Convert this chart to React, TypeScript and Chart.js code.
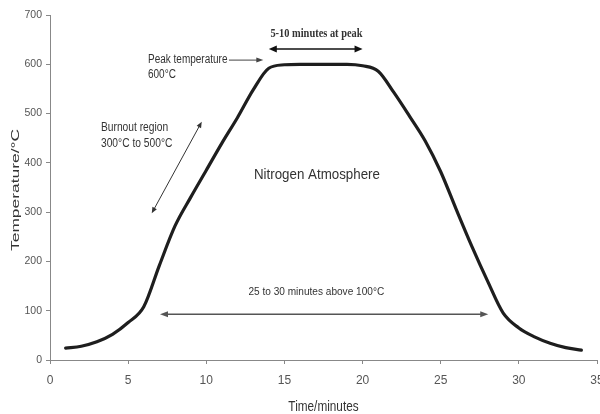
import React, { useEffect, useRef } from "react";
import { Chart, registerables } from "chart.js";

Chart.register(...registerables);

// ---- data ----
const timeMinutes = [1, 2, 3, 4, 5, 6, 7, 8, 9, 10, 11, 12, 13, 14, 15, 16, 17, 18, 19, 20, 21, 22, 23, 24, 25, 26, 27, 28, 29, 30, 31, 32, 33, 34];
const temperatureC = [24, 28, 37, 52, 76, 108, 192, 272, 330, 385, 440, 492, 548, 592, 599, 600, 600, 600, 600, 597, 586, 543, 495, 445, 382, 305, 230, 160, 95, 65, 47, 34, 25, 20];

const xTicks = [0, 5, 10, 15, 20, 25, 30, 35];
const yTicks = [0, 100, 200, 300, 400, 500, 600, 700];

const xTitle = "Time/minutes";
const yTitle = "Temperature/°C";

// annotation texts (anchored in data units: minutes, °C)
const annoTexts = [
  { text: "5-10 minutes at peak", x: 17.05, y: 656, size: 13, sx: 0.8, family: '"Liberation Serif", "Times New Roman", serif', weight: "bold", align: "center", color: "#333" },
  { text: "Peak temperature", x: 6.27, y: 603, size: 12.5, sx: 0.8, family: '"Liberation Sans", Arial, sans-serif', weight: "normal", align: "left", color: "#333" },
  { text: "600°C", x: 6.27, y: 573, size: 12.5, sx: 0.8, family: '"Liberation Sans", Arial, sans-serif', weight: "normal", align: "left", color: "#333" },
  { text: "Burnout region", x: 3.26, y: 465, size: 12.5, sx: 0.82, family: '"Liberation Sans", Arial, sans-serif', weight: "normal", align: "left", color: "#333" },
  { text: "300°C to 500°C", x: 3.26, y: 433, size: 12.5, sx: 0.82, family: '"Liberation Sans", Arial, sans-serif', weight: "normal", align: "left", color: "#333" },
  { text: "Nitrogen Atmosphere", x: 17.08, y: 366.5, size: 15.4, sx: 0.866, family: '"Liberation Sans", Arial, sans-serif', weight: "normal", align: "center", color: "#333" },
  { text: "25 to 30 minutes above 100°C", x: 17.04, y: 132, size: 11.6, sx: 0.87, family: '"Liberation Sans", Arial, sans-serif', weight: "normal", align: "center", color: "#333" },
];

// annotation arrows (data units)
const annoArrows = [
  { x1: 14, y1: 631, x2: 20, y2: 631, start: true, end: true, color: "#111", width: 1.5, hl: 8, hw: 7 },
  { x1: 11.45, y1: 608.5, x2: 13.65, y2: 608.5, start: false, end: true, color: "#444", width: 1, hl: 7, hw: 5 },
  { x1: 6.51, y1: 297.6, x2: 9.71, y2: 483.5, start: true, end: true, color: "#333", width: 1, hl: 6, hw: 5 },
  { x1: 7.04, y1: 92.7, x2: 28.04, y2: 92.7, start: true, end: true, color: "#555", width: 1.5, hl: 8, hw: 6 },
];

function drawHead(ctx: CanvasRenderingContext2D, tx: number, ty: number, fx: number, fy: number, hl: number, hw: number) {
  const ang = Math.atan2(ty - fy, tx - fx);
  ctx.save();
  ctx.translate(tx, ty);
  ctx.rotate(ang);
  ctx.beginPath();
  ctx.moveTo(0, 0);
  ctx.lineTo(-hl, hw / 2);
  ctx.lineTo(-hl, -hw / 2);
  ctx.closePath();
  ctx.fill();
  ctx.restore();
}

const annotationPlugin = {
  id: "annotationsAndTitles",
  afterDraw(chart: any) {
    const ctx: CanvasRenderingContext2D = chart.ctx;
    const xs = chart.scales.x;
    const ys = chart.scales.y;
    const area = chart.chartArea;

    // arrows
    annoArrows.forEach((a) => {
      const x1 = xs.getPixelForValue(a.x1);
      const y1 = ys.getPixelForValue(a.y1);
      const x2 = xs.getPixelForValue(a.x2);
      const y2 = ys.getPixelForValue(a.y2);
      ctx.save();
      ctx.strokeStyle = a.color;
      ctx.fillStyle = a.color;
      ctx.lineWidth = a.width;
      const ang = Math.atan2(y2 - y1, x2 - x1);
      const sx1 = a.start ? x1 + Math.cos(ang) * a.hl * 0.8 : x1;
      const sy1 = a.start ? y1 + Math.sin(ang) * a.hl * 0.8 : y1;
      const sx2 = a.end ? x2 - Math.cos(ang) * a.hl * 0.8 : x2;
      const sy2 = a.end ? y2 - Math.sin(ang) * a.hl * 0.8 : y2;
      ctx.beginPath();
      ctx.moveTo(sx1, sy1);
      ctx.lineTo(sx2, sy2);
      ctx.stroke();
      if (a.end) drawHead(ctx, x2, y2, x1, y1, a.hl, a.hw);
      if (a.start) drawHead(ctx, x1, y1, x2, y2, a.hl, a.hw);
      ctx.restore();
    });

    // texts
    annoTexts.forEach((t) => {
      const px = xs.getPixelForValue(t.x);
      const py = ys.getPixelForValue(t.y);
      ctx.save();
      ctx.translate(px, py);
      ctx.scale(t.sx, 1);
      ctx.font = `${t.weight} ${t.size}px ${t.family}`;
      ctx.fillStyle = t.color;
      ctx.textAlign = t.align as CanvasTextAlign;
      ctx.textBaseline = "alphabetic";
      ctx.fillText(t.text, 0, 0);
      ctx.restore();
    });

    // axis titles
    ctx.save();
    ctx.font = `15.5px "Liberation Sans", Arial, sans-serif`;
    ctx.fillStyle = "#333";
    ctx.textAlign = "center";
    ctx.textBaseline = "alphabetic";
    ctx.translate((area.left + area.right) / 2, 410.5);
    ctx.scale(0.76, 1);
    ctx.fillText(xTitle, 0, 0);
    ctx.restore();

    ctx.save();
    ctx.font = `17.4px "Liberation Sans", Arial, sans-serif`;
    ctx.fillStyle = "#333";
    ctx.textAlign = "center";
    ctx.textBaseline = "alphabetic";
    ctx.translate(18.5, 190);
    ctx.rotate(-Math.PI / 2);
    ctx.scale(1, 0.68);
    ctx.fillText(yTitle, 0, 0);
    ctx.restore();
  },
};

export default function App() {
  const ref = useRef<HTMLCanvasElement | null>(null);

  useEffect(() => {
    if (!ref.current) return;
    const chart = new Chart(ref.current, {
      type: "line",
      data: {
        datasets: [
          {
            label: "Temperature",
            data: timeMinutes.map((t, i) => ({ x: t, y: temperatureC[i] })),
            borderColor: "#1e1e1e",
            borderWidth: 3.2,
            borderCapStyle: "round",
            borderJoinStyle: "round",
            pointRadius: 0,
            cubicInterpolationMode: "monotone",
            fill: false,
          },
        ],
      },
      options: {
        responsive: false,
        animation: false,
        layout: { padding: { top: 15, right: 3, left: 0, bottom: 0 } },
        plugins: {
          legend: { display: false },
          tooltip: { enabled: false },
          title: { display: false },
        },
        scales: {
          x: {
            type: "linear",
            min: 0,
            max: 35,
            afterBuildTicks: (scale: any) => {
              scale.ticks = xTicks.map((v) => ({ value: v }));
            },
            afterFit: (scale: any) => {
              scale.height = 54;
              scale.paddingRight = 0;
              scale.paddingLeft = 0;
            },
            ticks: {
              color: "#555",
              padding: 9,
              maxRotation: 0,
              autoSkip: false,
              font: { family: '"Liberation Sans", Arial, sans-serif', size: 12 },
            },
            grid: { display: true, drawOnChartArea: false, drawTicks: true, tickLength: 4, color: "#888" },
            border: { display: true, color: "#888", width: 1 },
            title: { display: false },
          },
          y: {
            type: "linear",
            min: 0,
            max: 700,
            afterBuildTicks: (scale: any) => {
              scale.ticks = yTicks.map((v) => ({ value: v }));
            },
            afterFit: (scale: any) => {
              scale.width = 50;
              scale.paddingTop = 0;
              scale.paddingBottom = 0;
            },
            ticks: {
              color: "#555",
              padding: 4,
              autoSkip: false,
              font: { family: '"Liberation Sans", Arial, sans-serif', size: 10.5 },
            },
            grid: { display: true, drawOnChartArea: false, drawTicks: true, tickLength: 4, color: "#888" },
            border: { display: true, color: "#888", width: 1 },
            title: { display: false },
          },
        },
      },
      plugins: [annotationPlugin],
    } as any);
    return () => chart.destroy();
  }, []);

  return (
    <div style={{ position: "absolute", left: 0, top: 0, width: 600, height: 414, background: "#fff" }}>
      <canvas ref={ref} width={600} height={414} />
    </div>
  );
}
